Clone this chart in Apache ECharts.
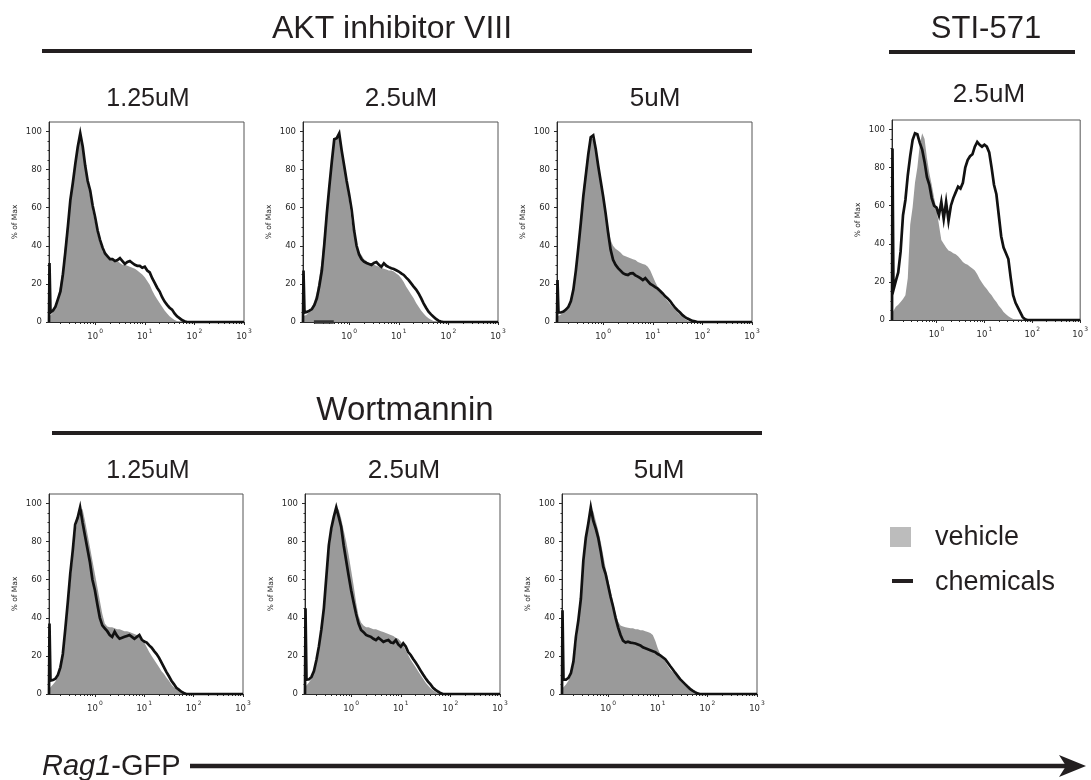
<!DOCTYPE html>
<html>
<head>
<meta charset="utf-8">
<script src="https://cdn.jsdelivr.net/npm/echarts@6/dist/echarts.min.js"></script>
<style>
  html, body { margin: 0; padding: 0; background: #fff; }
  #chart { width: 1091px; height: 780px; }
</style>
</head>
<body>
<div id="chart"></div>
<script>
// Histogram bin positions on the Rag1-GFP axis, in log10 units (shared by every panel)
const logX = [-0.93, -0.92, -0.90, -0.85, -0.80, -0.75, -0.70, -0.65, -0.60, -0.55,
  -0.50, -0.45, -0.40, -0.35, -0.30, -0.25, -0.20, -0.15, -0.10, -0.05,
  0.00, 0.05, 0.10, 0.15, 0.20, 0.25, 0.30, 0.35, 0.40, 0.45,
  0.50, 0.55, 0.60, 0.65, 0.70, 0.75, 0.80, 0.85, 0.90, 0.95,
  1.00, 1.05, 1.10, 1.15, 1.20, 1.25, 1.30, 1.35, 1.40, 1.45,
  1.50, 1.55, 1.60, 1.65, 1.70, 1.75, 1.80, 1.85, 1.90, 3.00];

// % of Max, vehicle (filled) and chemical-treated (outline) histograms
const akt125Vehicle = [0, 3, 3, 5, 8, 13, 20, 29, 42, 54,
  66, 75, 85, 93, 96, 90, 80, 72, 66, 58,
  52, 46, 41, 37, 35, 34, 33, 33, 32, 32,
  31, 30, 30, 29.5, 29, 28.5, 28, 27, 26, 25,
  23.5, 21.5, 19.5, 16.5, 14, 12, 10, 8, 6, 4.5,
  3, 2, 1, 0.5, 0, 0, 0, 0, 0, 0];
const akt125Chem = [0, 31, 5, 6, 8, 12, 16, 25, 37, 50,
  64, 73, 83, 92, 99, 92, 82, 74, 69, 61,
  55, 48, 43, 39, 36, 34.5, 33, 33, 32, 32.5,
  33.5, 32, 30.5, 31.5, 32, 31, 30, 29.5, 29.5, 28.5,
  29, 27, 26, 23, 20.5, 18, 16, 13, 10.7, 9,
  7.5, 6.5, 4.5, 3, 2, 1, 0.4, 0, 0, 0];

const akt25Vehicle = [0, 3, 3, 4, 5.5, 7.5, 11, 16, 24, 33,
  47, 61, 74, 86, 95, 97, 97, 89, 80, 72,
  63, 53, 45, 40, 37, 35, 33, 32, 31, 30.5,
  30, 29.5, 29, 28.5, 28, 27.5, 27, 27, 26.5, 25.5,
  24.5, 23, 21, 18.5, 16.5, 14.5, 12.5, 10, 8, 6,
  4.5, 3, 2, 1.2, 0.5, 0, 0, 0, 0, 0];
const akt25Chem = [0, 27, 5, 5.3, 6, 6.8, 9, 12.5, 19, 27,
  41, 57, 71, 84, 96, 96.5, 99, 90, 82, 74,
  67, 59, 48, 40, 35.5, 33, 31.7, 31, 30.5, 30,
  31, 31.5, 30, 29, 30.8, 29.5, 28.8, 28.2, 27.8, 27.2,
  26.5, 25.5, 24.7, 23.3, 22, 20.3, 18.6, 17, 15, 12.5,
  9.8, 7.5, 5.4, 4, 2.8, 1.6, 0.7, 0.2, 0, 0];
// dark marker bar lying on the baseline of the 2.5uM AKT panel (log10 start, end)
const akt25BaselineBar = [-0.71, -0.31];

const akt5Vehicle = [0, 3, 3, 4, 5, 6.5, 8.5, 12, 19, 29,
  42, 56, 70, 81, 91, 97, 96, 92, 84, 76,
  68, 59, 50, 43, 40, 38.5, 37.5, 36.5, 35, 34.5,
  34, 33.5, 33, 32.5, 31.5, 31, 30.5, 30, 29, 27,
  24, 21, 18.5, 16, 14, 12.5, 11, 9.5, 8, 6.5,
  5, 3.8, 2.6, 1.6, 0.8, 0.3, 0, 0, 0, 0];
const akt5Chem = [0, 22, 5, 5, 5.5, 6.5, 8, 11, 17, 27,
  39, 52, 66, 77, 88, 97, 98, 91, 82, 74,
  66, 57, 47, 38, 32.6, 30, 28.3, 27, 25.6, 25,
  24.7, 25.5, 25.6, 24.5, 23.8, 23, 22, 23, 21.5, 20,
  19.2, 18.3, 17.5, 16.3, 15, 13.5, 12.4, 11, 9.2, 7.5,
  6.2, 5, 3.6, 2.6, 1.8, 1.2, 0.6, 0.3, 0, 0];

const sti25Vehicle = [0, 4, 5, 7, 8, 9.5, 11, 13, 22, 50,
  59, 72, 80, 92, 98, 95, 85, 77, 71, 64,
  58, 50, 42, 40, 38, 36.5, 36, 35, 34.5, 33.5,
  32, 30.5, 29.5, 29, 28, 27, 26, 24, 21.5, 19.5,
  17.7, 16.3, 14.5, 13, 11, 9.5, 7.5, 6, 4.2, 3,
  2, 1.2, 0.5, 0, 0, 0, 0, 0, 0, 0];
const sti25Chem = [0, 90, 15.7, 20.5, 25, 36, 55, 63, 76, 86,
  94.5, 98, 97.5, 93, 89.5, 83, 75, 71, 64, 60,
  59, 55, 62, 53, 62, 52, 60, 64, 67, 70,
  69, 72, 80, 84, 86, 87, 91, 93.5, 92, 91,
  92, 91, 88, 80, 71, 66, 55, 44, 38, 35,
  32, 22, 13, 9, 6.5, 4, 1.5, 0.4, 0, 0];

const wort125Vehicle = [0, 3, 4, 5, 6.5, 9, 13, 19, 30, 44,
  58, 71, 84, 93, 97, 97, 91, 84, 77, 70,
  63, 56, 49, 42, 37, 35.5, 35, 35, 34.5, 34,
  34, 33.5, 33, 33, 32.5, 32, 31.5, 31, 30, 28.5,
  27, 24.5, 22, 20, 18, 16, 14, 12, 10.5, 8.5,
  7, 5, 3.5, 2.5, 1.5, 0.5, 0, 0, 0, 0];
const wort125Chem = [0, 37, 7, 7.3, 8, 10, 14, 21, 34, 48,
  63, 75, 89, 92.5, 98, 90, 83, 76, 69, 60,
  54.5, 47, 40, 36, 34.5, 33, 31, 30, 32.7, 30.5,
  29, 29.5, 30, 30.5, 31, 30, 29, 30, 31, 28.5,
  27.5, 27, 25.5, 24.3, 22.5, 21, 19, 16.5, 14, 11.5,
  9.3, 7, 5.2, 3.3, 2.3, 1.2, 0.5, 0, 0, 0];

const wort25Vehicle = [0, 4, 5, 6, 8, 11, 16, 23, 32, 43,
  58, 73, 84, 92, 96, 97, 92, 86, 80, 73,
  65, 57, 48, 41, 37.5, 36, 35, 35, 34.5, 34,
  34, 33.5, 33, 32.5, 32, 31.5, 31, 30.5, 29.5, 29,
  27.5, 25.5, 23, 20.5, 18, 16, 14, 12, 10, 8,
  6, 4.5, 3, 2, 1, 0.3, 0, 0, 0, 0];
const wort25Chem = [0, 45, 7.5, 7.7, 9, 12, 17.8, 25, 34, 45,
  61.5, 78, 87, 93, 98, 93, 87.7, 78, 70, 62,
  54.5, 48, 42, 37, 33.6, 32.5, 31, 30.5, 30, 29,
  28.3, 29.5, 28.5, 27.4, 28, 28.3, 27, 26.8, 28.3, 26,
  24.8, 26.6, 25, 22, 20.5, 18.4, 16.5, 14.5, 12.3, 10.2,
  8.3, 6.5, 5, 3.3, 2.2, 1.3, 0.5, 0, 0, 0];

const wort5Vehicle = [0, 3, 4, 5, 7, 10, 15, 25, 36, 48,
  66, 79, 88, 96, 96, 91, 86, 80, 73, 66,
  60, 54, 48, 42, 38, 36, 35.5, 35, 34.8, 34.5,
  34.5, 34, 34, 33.5, 33.5, 33, 32.5, 32, 31, 28,
  24, 21, 19, 17, 15, 13, 11.5, 10, 8.5, 7,
  5.7, 4.5, 3.3, 2.3, 1.4, 0.6, 0, 0, 0, 0];
const wort5Chem = [0, 44, 7.5, 7.5, 8.5, 11, 17, 30, 38.8, 50,
  70, 82, 89.5, 98, 91, 87, 82, 75, 67, 63,
  57, 51, 45.8, 40, 35, 31, 28, 27, 27.5, 27,
  26.8, 26.5, 26, 25.5, 24.5, 24, 23.5, 23, 22.5, 22,
  21, 20.3, 19.3, 18.3, 16.5, 14.7, 13, 11.2, 9.5, 7.8,
  6.5, 5.2, 3.9, 2.7, 1.8, 1, 0.3, 0, 0, 0];

// Axis ticks
const xDecades = [0, 1, 2, 3];
const yTicks = [0, 20, 40, 60, 80, 100];
const yMinorTicks = [5, 10, 15, 25, 30, 35, 45, 50, 55, 65, 70, 75, 85, 90, 95];
const X_MIN = -0.93, X_MAX = 3, Y_MAX = 105;

// log-spaced minor ticks inside each decade (2..9 x 10^n)
const xMinorTicks = [];
for (let n = -1; n <= 2; n++) {
  for (let k = 2; k <= 9; k++) {
    const v = Math.log10(k * Math.pow(10, n));
    if (v > X_MIN && v < X_MAX) xMinorTicks.push(v);
  }
}

// Panel layout: plotting rectangle of each histogram
const panels = [
  { box: { left: 49,  top: 122, width: 195, height: 200 }, vehicle: akt125Vehicle,  chem: akt125Chem },
  { box: { left: 303, top: 122, width: 195, height: 200 }, vehicle: akt25Vehicle,   chem: akt25Chem, bar: akt25BaselineBar },
  { box: { left: 557, top: 122, width: 195, height: 200 }, vehicle: akt5Vehicle,    chem: akt5Chem },
  { box: { left: 892, top: 120, width: 195, height: 200 }, vehicle: sti25Vehicle,   chem: sti25Chem },
  { box: { left: 49,  top: 494, width: 194, height: 200 }, vehicle: wort125Vehicle, chem: wort125Chem },
  { box: { left: 305, top: 494, width: 195, height: 200 }, vehicle: wort25Vehicle,  chem: wort25Chem },
  { box: { left: 562, top: 494, width: 195, height: 200 }, vehicle: wort5Vehicle,   chem: wort5Chem }
];

const AXIS_FONT = '"DejaVu Sans", Verdana, sans-serif';
const TEXT_FONT = '"Liberation Sans", Arial, Helvetica, sans-serif';
const INK = '#231f20';
const AXIS_INK = '#2a2a2a';

const grid = [], xAxis = [], yAxis = [], series = [];
panels.forEach((p, i) => {
  grid.push(Object.assign({ show: true, borderColor: '#555', borderWidth: 1, backgroundColor: 'transparent' }, p.box));
  // main x axis: decade ticks with 10^n labels
  xAxis.push({
    type: 'value', gridIndex: i, min: X_MIN, max: X_MAX,
    splitLine: { show: false },
    axisLine: { show: true, onZero: false, lineStyle: { color: AXIS_INK, width: 1 } },
    axisTick: { show: true, customValues: xDecades, length: 3, inside: false, lineStyle: { color: AXIS_INK } },
    axisLabel: {
      show: true, customValues: xDecades, margin: 6, color: AXIS_INK,
      formatter: v => '{b|10}{s|' + v + '}',
      rich: {
        b: { fontSize: 8.5, fontFamily: AXIS_FONT, color: AXIS_INK, lineHeight: 13, verticalAlign: 'bottom' },
        s: { fontSize: 6, fontFamily: AXIS_FONT, color: AXIS_INK, lineHeight: 13, verticalAlign: 'top', padding: [0, 0, 0, 1] }
      }
    }
  });
  // minor x ticks
  xAxis.push({
    type: 'value', gridIndex: i, min: X_MIN, max: X_MAX, position: 'bottom',
    splitLine: { show: false }, axisLine: { show: false, onZero: false }, axisLabel: { show: false },
    axisTick: { show: true, customValues: xMinorTicks, length: 2, lineStyle: { color: AXIS_INK } }
  });
  yAxis.push({
    type: 'value', gridIndex: i, min: 0, max: Y_MAX, position: 'left',
    name: '% of Max', nameLocation: 'middle', nameGap: 30,
    nameTextStyle: { fontSize: 7.5, fontFamily: AXIS_FONT, color: AXIS_INK },
    splitLine: { show: false },
    axisLine: { show: true, onZero: false, lineStyle: { color: AXIS_INK, width: 1 } },
    axisTick: { show: true, customValues: yTicks, length: 3, lineStyle: { color: AXIS_INK } },
    axisLabel: { show: true, customValues: yTicks, margin: 7, fontSize: 8.5, fontFamily: AXIS_FONT, color: AXIS_INK }
  });
  yAxis.push({
    type: 'value', gridIndex: i, min: 0, max: Y_MAX, position: 'left',
    splitLine: { show: false }, axisLine: { show: false, onZero: false }, axisLabel: { show: false },
    axisTick: { show: true, customValues: yMinorTicks, length: 1.5, lineStyle: { color: AXIS_INK } }
  });

  series.push({
    name: 'vehicle', type: 'line', xAxisIndex: 2 * i, yAxisIndex: 2 * i,
    data: logX.map((x, j) => [x, p.vehicle[j]]),
    symbol: 'none', lineStyle: { width: 0 },
    areaStyle: { color: '#9a9a9a', opacity: 1 },
    silent: true, z: 2
  });
  series.push({
    name: 'chemicals', type: 'line', xAxisIndex: 2 * i, yAxisIndex: 2 * i,
    data: logX.map((x, j) => [x, p.chem[j]]),
    symbol: 'none', clip: false,
    lineStyle: { color: '#111', width: 2.7, join: 'miter' },
    silent: true, z: 3
  });
  if (p.bar) {
    series.push({
      name: 'baseline bar', type: 'line', xAxisIndex: 2 * i, yAxisIndex: 2 * i,
      data: p.bar.map(x => [x, 0]),
      symbol: 'none', clip: false,
      lineStyle: { color: '#333', width: 3.5, cap: 'butt' },
      silent: true, z: 4
    });
  }
});

function label(text, x, y, size) {
  return {
    type: 'text', x: x, y: y, silent: true,
    style: { text: text, font: size + 'px ' + TEXT_FONT, fill: INK, align: 'center', verticalAlign: 'middle' }
  };
}
function bar(x1, x2, y) {
  return { type: 'line', silent: true, shape: { x1: x1, y1: y, x2: x2, y2: y }, style: { stroke: INK, lineWidth: 4 } };
}

const graphic = [
  label('AKT inhibitor VIII', 392, 29, 32),
  bar(42, 752, 51),
  label('STI-571', 986, 29, 31),
  bar(889, 1075, 52),
  label('1.25uM', 148, 99, 25),
  label('2.5uM', 401, 99, 26),
  label('5uM', 655, 99, 26),
  label('2.5uM', 989, 95, 26),
  label('Wortmannin', 405, 411, 33),
  bar(52, 762, 433),
  label('1.25uM', 148, 471, 25),
  label('2.5uM', 404, 471, 26),
  label('5uM', 659, 471, 26),
  // legend
  { type: 'rect', silent: true, shape: { x: 890, y: 527, width: 21, height: 20 }, style: { fill: '#bcbcbc' } },
  { type: 'text', x: 935, y: 538, silent: true,
    style: { text: 'vehicle', font: '27px ' + TEXT_FONT, fill: INK, align: 'left', verticalAlign: 'middle' } },
  { type: 'line', silent: true, shape: { x1: 892, y1: 581, x2: 913, y2: 581 }, style: { stroke: INK, lineWidth: 4 } },
  { type: 'text', x: 935, y: 583, silent: true,
    style: { text: 'chemicals', font: '27px ' + TEXT_FONT, fill: INK, align: 'left', verticalAlign: 'middle' } },
  // Rag1-GFP intensity arrow
  { type: 'text', x: 42, y: 767, silent: true,
    style: {
      text: '{i|Rag1}-GFP', font: '29px ' + TEXT_FONT, fill: INK, align: 'left', verticalAlign: 'middle',
      rich: { i: { fontStyle: 'italic', fontSize: 29, fontFamily: TEXT_FONT, fill: INK } }
    } },
  { type: 'line', silent: true, shape: { x1: 190, y1: 766, x2: 1068, y2: 766 }, style: { stroke: INK, lineWidth: 4.5 } },
  { type: 'polygon', silent: true, shape: { points: [[1086, 766], [1059, 755], [1066, 766], [1059, 777]] }, style: { fill: INK } }
];

const chart = echarts.init(document.getElementById('chart'), null, { renderer: 'canvas' });
chart.setOption({
  animation: false,
  backgroundColor: '#fff',
  grid: grid,
  xAxis: xAxis,
  yAxis: yAxis,
  series: series,
  graphic: graphic
});
</script>
</body>
</html>
